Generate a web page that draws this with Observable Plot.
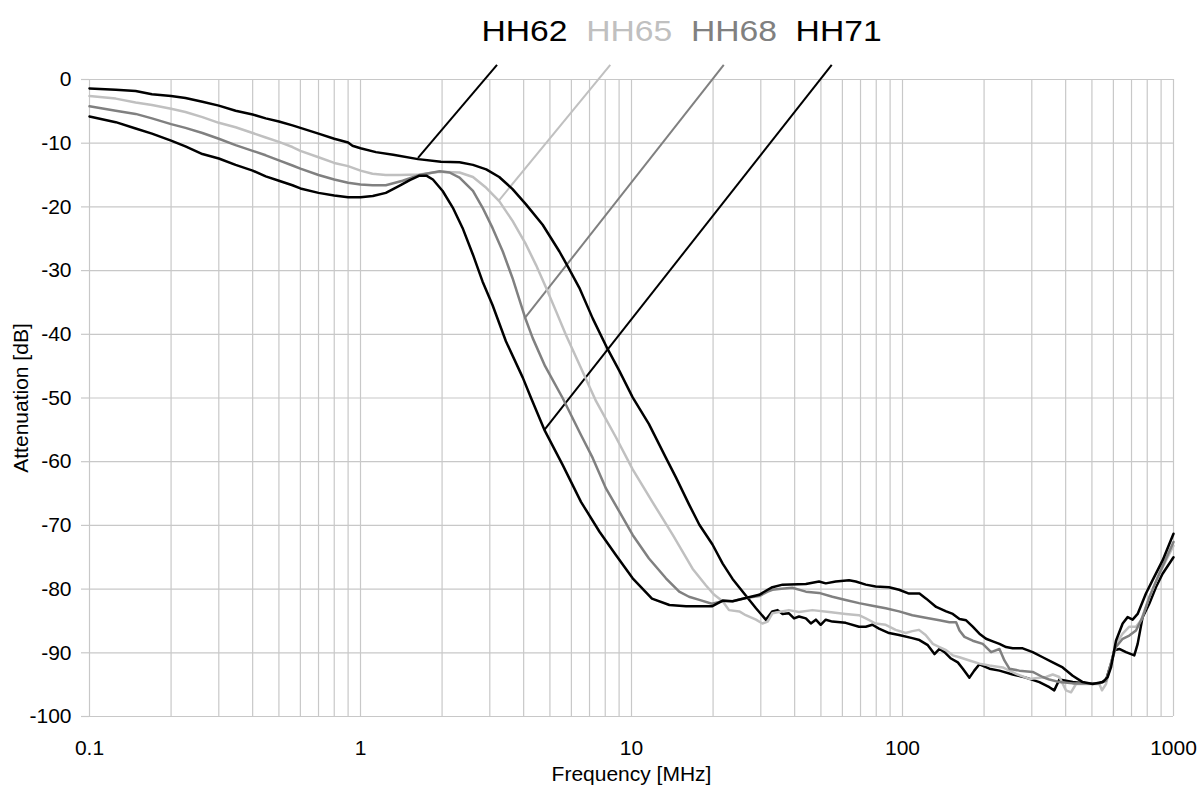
<!DOCTYPE html>
<html><head><meta charset="utf-8">
<script src="https://cdn.jsdelivr.net/npm/d3@7"></script>
<script src="https://cdn.jsdelivr.net/npm/@observablehq/plot@0.6"></script>
<style>
html,body{margin:0;padding:0;background:#fff;}
#chart{width:1199px;height:785px;}
</style></head><body><div id="chart"></div>
<script>
const seriesNames = ["HH62", "HH65", "HH68", "HH71"];
const seriesColors = ["#000000", "#c0c0c0", "#808080", "#000000"];

// [frequency MHz, attenuation dB]
const hh62 = [[0.1,-1.4],[0.125,-1.6],[0.148,-1.8],[0.17,-2.3],[0.2,-2.6],[0.226,-2.9],[0.261,-3.5],[0.3,-4.1],[0.346,-4.9],[0.4,-5.5],[0.447,-6.1],[0.5,-6.6],[0.561,-7.2],[0.6,-7.6],[0.7,-8.5],[0.8,-9.3],[0.9,-9.9],[0.934,-10.4],[1.0,-10.8],[1.14,-11.4],[1.32,-11.8],[1.63,-12.5],[1.98,-12.9],[2.32,-13.0],[2.6,-13.4],[2.91,-14.1],[3.25,-15.3],[3.64,-17.2],[4.08,-19.6],[4.7,-22.8],[5.42,-27],[5.81,-29.3],[6.42,-32.7],[7.19,-37.5],[8.16,-42.3],[9.01,-45.7],[10.1,-49.9],[11.6,-54.1],[13.4,-59.4],[14.6,-62.5],[16.3,-66.7],[17.8,-69.9],[19.9,-73],[21.7,-76],[23.6,-78.4],[26.4,-81],[28.8,-83],[31.3,-84.8],[33.1,-83.5],[34.6,-83.3],[36.1,-83.9],[38.1,-83.8],[39.8,-84.6],[41.5,-84.3],[44,-84.6],[45.9,-85.4],[47.9,-84.8],[49.9,-85.6],[52.1,-84.8],[55.1,-85.1],[61.7,-85.3],[69.1,-85.9],[73.2,-85.9],[77.4,-85.6],[81.9,-86.2],[89.2,-86.9],[97.1,-87.2],[108.7,-87.7],[115.5,-88.0],[124,-88.8],[131.2,-90.2],[136.9,-89.4],[142.9,-89.9],[151,-90.9],[160,-91.5],[167,-92.5],[176.6,-93.9],[184,-92.8],[192.2,-91.8],[209.3,-92.5],[227.9,-92.8],[255.1,-93.4],[285,-93.9],[320,-94.6],[348.3,-95.4],[363,-95.9],[379.2,-94.2],[424.6,-94.6],[475.5,-94.8],[532.4,-94.8],[563.6,-94.3],[587.9,-91.7],[605,-89.6],[631,-89.4],[667.8,-89.9],[716.7,-90.4],[737.4,-88.6],[769.1,-84.4],[813.9,-82.3],[861.3,-79.7],[911.5,-77.6],[1000,-75]];
const hh65 = [[0.1,-2.6],[0.125,-3.0],[0.148,-3.6],[0.17,-4.0],[0.2,-4.6],[0.226,-5.1],[0.261,-5.9],[0.3,-6.8],[0.346,-7.5],[0.4,-8.4],[0.447,-9.1],[0.5,-9.8],[0.561,-10.6],[0.6,-11.2],[0.7,-12.2],[0.8,-13.1],[0.9,-13.6],[1.0,-14.3],[1.107,-14.8],[1.24,-15.0],[1.39,-15.0],[1.65,-14.9],[1.96,-14.5],[2.32,-14.6],[2.6,-15.3],[2.91,-17.0],[3.25,-19.1],[3.64,-22.2],[4.08,-25.9],[4.44,-29.1],[4.84,-32.7],[5.27,-36.4],[5.73,-40.1],[6.51,-45.3],[7.4,-50.5],[8.77,-56.2],[10.1,-61.2],[11.94,-66.3],[14.2,-71.5],[16.8,-76.8],[18.8,-79.4],[20.2,-80.9],[21.7,-81.9],[22.9,-83.3],[25,-83.5],[26.4,-84.1],[28.8,-84.8],[30.4,-85.4],[31.8,-85.1],[33.1,-83.8],[35,-83.6],[38.1,-83.3],[41.5,-83.6],[46.5,-83.3],[53.6,-83.6],[61.7,-83.9],[69.1,-84.1],[73.2,-84.6],[79.6,-85.4],[86.7,-85.6],[94.4,-86.4],[102.7,-86.9],[108.7,-86.6],[115,-86.4],[121.7,-87.2],[129.4,-88.6],[136.9,-89.1],[144.9,-89.6],[153.3,-90.4],[162.3,-90.7],[176.6,-91.2],[192.2,-91.7],[209.3,-92],[234.4,-92.3],[262.5,-93.3],[293.9,-94.1],[338.6,-93.8],[358.3,-93.4],[379.2,-93.8],[401.2,-95.9],[418.6,-96.2],[436.8,-94.9],[475.5,-94.9],[532.4,-94.9],[544.6,-95.9],[563.6,-94.9],[587.9,-91.7],[613.4,-88.6],[649.2,-87],[687,-85.9],[727,-85.9],[758.6,-84.9],[813.9,-81.3],[886,-77.6],[1000,-73.2]];
const hh68 = [[0.1,-4.2],[0.125,-4.9],[0.148,-5.4],[0.17,-6.1],[0.2,-7.0],[0.226,-7.6],[0.261,-8.4],[0.3,-9.3],[0.346,-10.3],[0.4,-11.2],[0.447,-11.9],[0.5,-12.7],[0.561,-13.5],[0.6,-14.0],[0.7,-15.0],[0.8,-15.7],[0.9,-16.2],[1.0,-16.5],[1.107,-16.6],[1.24,-16.6],[1.43,-15.9],[1.65,-15.0],[1.96,-14.4],[2.13,-14.6],[2.32,-15.4],[2.6,-17.5],[2.82,-20.1],[3.07,-23.3],[3.35,-27],[3.64,-31.2],[4.05,-37.4],[4.32,-40.6],[4.8,-45],[5.57,-50],[6.51,-55.8],[7.19,-59.4],[8.05,-64.2],[9.01,-67.8],[10.1,-71.5],[11.6,-75.2],[13.4,-78.3],[15,-80.4],[16.3,-81.2],[17.8,-81.7],[19.8,-82.3],[21.7,-81.9],[23.6,-81.9],[26.4,-81.4],[29.6,-81.1],[31.8,-80.4],[33.1,-80.1],[35,-80],[39.2,-79.8],[44,-80.4],[49.2,-80.6],[55.1,-81.2],[61.7,-81.7],[69.1,-82.2],[77.4,-82.6],[86.7,-83],[97.1,-83.5],[108.7,-84.1],[121.7,-84.5],[136.9,-84.9],[149,-85.2],[157.7,-85.2],[162.3,-86.5],[169.3,-87.5],[181.6,-88.1],[197.8,-88.6],[212.3,-89.9],[227.9,-89.4],[237.7,-91.2],[248,-92.5],[270,-92.8],[302.3,-93],[329.1,-93.8],[348.3,-94.2],[379.2,-94.6],[424.6,-94.8],[475.5,-94.8],[532.4,-94.8],[563.6,-94.4],[587.9,-91.7],[613.4,-89.1],[649.2,-87.8],[687,-87.3],[727,-86.5],[769.1,-84.4],[813.9,-81.3],[886,-77.6],[1000,-72.6]];
const hh71 = [[0.1,-5.8],[0.125,-6.7],[0.148,-7.7],[0.17,-8.5],[0.2,-9.6],[0.226,-10.5],[0.261,-11.7],[0.3,-12.4],[0.346,-13.4],[0.4,-14.3],[0.447,-15.2],[0.5,-15.9],[0.561,-16.6],[0.6,-17.1],[0.7,-17.8],[0.8,-18.2],[0.9,-18.5],[1.0,-18.5],[1.11,-18.3],[1.24,-17.8],[1.39,-16.7],[1.52,-15.8],[1.65,-15.1],[1.75,-15.1],[1.85,-15.7],[2.01,-17.5],[2.19,-20.1],[2.38,-23.3],[2.6,-27.5],[2.82,-31.7],[3.07,-35.4],[3.44,-41.1],[3.97,-46.8],[4.26,-50],[4.77,-55],[5.57,-60.5],[6.51,-66.3],[7.62,-71],[8.77,-74.7],[10.1,-78.3],[11.9,-81.5],[13.8,-82.5],[15.9,-82.7],[17.8,-82.7],[19.8,-82.7],[21.7,-81.8],[23.6,-81.9],[26.4,-81.4],[29.6,-80.9],[31.8,-80.1],[33.1,-79.7],[36.1,-79.3],[44,-79.2],[49.2,-78.8],[52.1,-79.1],[56.7,-78.8],[63.5,-78.6],[67.2,-78.8],[73.2,-79.3],[79.6,-79.6],[89.2,-79.7],[97.1,-80.1],[105.7,-80.7],[115.5,-80.7],[122.3,-81.5],[133.1,-82.8],[144.9,-83.5],[153.3,-83.9],[162.3,-84.7],[171.7,-84.9],[181.6,-85.9],[192.2,-87],[203.4,-87.8],[215.3,-88.2],[227.9,-88.6],[241.1,-89.1],[255.1,-89.3],[277.7,-89.3],[302.3,-89.9],[329.1,-90.7],[358.3,-91.5],[389.9,-92.3],[424.6,-93.6],[462.2,-94.6],[502.9,-94.9],[547.8,-94.6],[571.5,-93.8],[587.9,-92.3],[613.4,-88.1],[649.2,-85.4],[677.3,-84.4],[706.6,-84.8],[737.4,-83.9],[791.2,-80.7],[837.3,-78.6],[911.5,-75.5],[1000,-71.3]];
const seriesData = [hh62, hh65, hh68, hh71];

// leader lines: from a point on the curve up to just below the legend (dB above 0)
const leaderCurveFreq = [1.63, 3.24, 4.05, 4.77];
const leaderCurveDb = [-12.3, -19.0, -37.4, -55];
const leaderTopFreq = [3.19, 8.35, 21.9, 54.8];
const leaderTopDb = [2.3, 2.3, 2.3, 2.3];

const xTicks = [0.1, 1, 10, 100, 1000];
const xTickLabels = ["0.1", "1", "10", "100", "1000"];
const yTicks = [-100, -90, -80, -70, -60, -50, -40, -30, -20, -10, 0];
const xGrid = [0.1,0.2,0.3,0.4,0.5,0.6,0.7,0.8,0.9,1,2,3,4,5,6,7,8,9,10,20,30,40,50,60,70,80,90,100,200,300,400,500,600,700,800,900,1000];

const xTitle = "Frequency [MHz]";
const yTitle = "Attenuation [dB]";

const gridColor = "#c8c8c8";
const font = "'Liberation Sans', Arial, sans-serif";

const rows = seriesData.map((arr, i) => arr.map(([f, db]) => ({series: seriesNames[i], f, db})));
const leaders = seriesNames.map((name, i) => ({
  series: name, x1: leaderCurveFreq[i], y1: leaderCurveDb[i], x2: leaderTopFreq[i], y2: leaderTopDb[i]
}));

const chart = Plot.plot({
  width: 1199,
  height: 785,
  marginLeft: 89,
  marginRight: 26,
  marginTop: 79,
  marginBottom: 69,
  x: {type: "log", domain: [0.1, 1000]},
  y: {domain: [-100, 0]},
  style: {fontFamily: font, fontSize: "21px", color: "#000", background: "#fff", overflow: "visible"},
  marks: [
    Plot.ruleX(xGrid, {stroke: gridColor, strokeWidth: 1.2}),
    Plot.ruleY(yTicks, {stroke: gridColor, strokeWidth: 1.2}),
    Plot.axisY({ticks: yTicks, tickSize: 8, tickPadding: 10, stroke: gridColor, strokeWidth: 1.2,
      tickFormat: d => String(d), label: null, fontSize: 21}),
    Plot.axisX({ticks: xTicks, tickSize: 0, tickPadding: 24,
      tickFormat: d => xTickLabels[xTicks.indexOf(d)], label: null, fontSize: 21}),
    Plot.text([xTitle], {frameAnchor: "bottom", lineAnchor: "middle", dy: 58, fontSize: 21}),
    Plot.text([yTitle], {frameAnchor: "left", textAnchor: "middle", lineAnchor: "middle", dx: -68, rotate: -90, fontSize: 21}),
    ...leaders.map((d, i) => Plot.link([d], {x1: "x1", y1: "y1", x2: "x2", y2: "y2",
      stroke: seriesColors[i], strokeWidth: 2})),
    ...rows.map((r, i) => Plot.line(r, {x: "f", y: "db", stroke: seriesColors[i], strokeWidth: 2.5,
      strokeLinejoin: "round", strokeLinecap: "round"})),
    ...seriesNames.map((name, i) => Plot.text([name], {frameAnchor: "top", textAnchor: "middle", lineAnchor: "middle",
      dx: -107 + i * 104.7, dy: -48, fill: seriesColors[i], fontSize: 29, className: "legend-label"}))
  ]
});
// the reference legend lettering is a little wider than Liberation Sans at this size
d3.select(chart).selectAll(".legend-label text")
  .attr("textLength", 86).attr("lengthAdjust", "spacingAndGlyphs");
document.getElementById("chart").appendChild(chart);
</script>
</body></html>
